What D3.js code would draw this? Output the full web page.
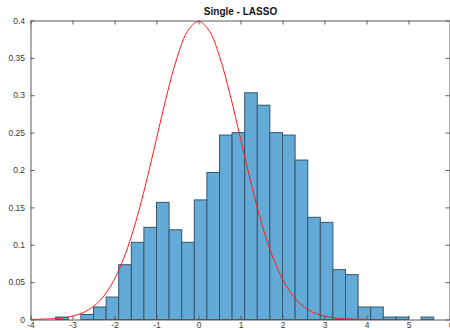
<!DOCTYPE html>
<html lang="en">
  <head>
    <meta charset="UTF-8" />
    <title>Single - LASSO</title>
    <style>
      body {
        margin: 0;
        background: #fff;
        overflow: hidden;
      }
      svg {
        display: block;
        font-family: "Liberation Sans", Arial, Helvetica, sans-serif;
      }
      .tick-label {
        font-size: 8.5px;
        fill: #3a3a3a;
      }
      .title {
        font-size: 10px;
        font-weight: bold;
        fill: #111;
      }
      .bar {
        fill: #64aad7;
        stroke: #35556d;
        stroke-width: 1px;
      }
      .pdf {
        fill: none;
        stroke: #ff1a1a;
        stroke-width: 1px;
      }
    </style>
  </head>
  <body>
    <svg width="450" height="330"></svg>

    <script src="https://d3js.org/d3.v7.min.js"></script>
    <script>
      // histogram (normalized to pdf), bins of width 0.3 starting at -3.4
      const binStart = -3.4;
      const binWidth = 0.3;
      const density = [
        0.0033, 0, 0.0067, 0.0167, 0.03, 0.0733, 0.1033, 0.1233, 0.1567, 0.12,
        0.1033, 0.16, 0.1967, 0.2467, 0.25, 0.3033, 0.2867, 0.25, 0.2467, 0.2133,
        0.1367, 0.13, 0.0667, 0.06, 0.0167, 0.0167, 0.0033, 0.0033, 0, 0.0033,
      ];

      // red reference curve, read at steps of 0.25 from -4 to 4
      const curveX = [
        -4, -3.75, -3.5, -3.25, -3, -2.75, -2.5, -2.25, -2, -1.75, -1.5, -1.25,
        -1, -0.75, -0.5, -0.25, 0, 0.25, 0.5, 0.75, 1, 1.25, 1.5, 1.75, 2, 2.25,
        2.5, 2.75, 3, 3.25, 3.5, 3.75, 4,
      ];
      const curveY = [
        0.0001, 0.0004, 0.0009, 0.002, 0.0044, 0.0091, 0.0175, 0.0317, 0.054,
        0.0863, 0.1295, 0.1826, 0.242, 0.3011, 0.3521, 0.3867, 0.3989, 0.3867,
        0.3521, 0.3011, 0.242, 0.1826, 0.1295, 0.0863, 0.054, 0.0317, 0.0175,
        0.0091, 0.0044, 0.002, 0.0009, 0.0004, 0.0001,
      ];

      const xTicks = [-4, -3, -2, -1, 0, 1, 2, 3, 4, 5, 6];
      const yTicks = [0, 0.05, 0.1, 0.15, 0.2, 0.25, 0.3, 0.35, 0.4];

      const svg = d3.select("svg");
      const mLeft = 30.5,
        mRight = 450.5,
        mTop = 20.5,
        mBottom = 319.5;

      const x = d3.scaleLinear().domain([-4, 6]).range([mLeft, mRight]);
      const y = d3.scaleLinear().domain([0, 0.4]).range([mBottom, mTop]);

      // bars
      const bins = density.map((v, i) => ({
        x0: binStart + i * binWidth,
        x1: binStart + (i + 1) * binWidth,
        v: v,
      }));

      svg
        .append("g")
        .selectAll("rect")
        .data(bins)
        .join("rect")
        .attr("class", "bar")
        .attr("x", (d) => x(d.x0))
        .attr("y", (d) => y(d.v))
        .attr("width", (d) => x(d.x1) - x(d.x0))
        .attr("height", (d) => y(0) - y(d.v));

      // curve
      const line = d3
        .line()
        .x((d, i) => x(curveX[i]))
        .y((d) => y(d))
        .curve(d3.curveCatmullRom);

      svg.append("path").attr("class", "pdf").attr("d", line(curveY));

      // axes, matlab style: box with inward ticks
      const axisColor = "#5a5a5a";
      const tickLen = 4;

      const bottomAxis = d3
        .axisBottom(x)
        .tickValues(xTicks)
        .tickSizeInner(-tickLen)
        .tickSizeOuter(0)
        .tickPadding(2.5)
        .tickFormat((d) => String(d));
      const leftAxis = d3
        .axisLeft(y)
        .tickValues(yTicks)
        .tickSizeInner(-tickLen)
        .tickSizeOuter(0)
        .tickPadding(5.5)
        .tickFormat((d) => (d === 0 ? "0" : String(+d.toFixed(2))));

      const gx = svg
        .append("g")
        .attr("transform", `translate(0,${mBottom})`)
        .call(bottomAxis);
      const gy = svg
        .append("g")
        .attr("transform", `translate(${mLeft},0)`)
        .call(leftAxis);

      const gxTop = svg
        .append("g")
        .attr("transform", `translate(0,${mTop})`)
        .call(d3.axisTop(x).tickValues(xTicks).tickSizeInner(-tickLen).tickSizeOuter(0).tickFormat(""));
      const gyRight = svg
        .append("g")
        .attr("transform", `translate(${mRight - 1},0)`)
        .call(d3.axisRight(y).tickValues(yTicks).tickSizeInner(-tickLen).tickSizeOuter(0).tickFormat(""));

      [gx, gy, gxTop, gyRight].forEach((g) => {
        g.attr("font-family", null).attr("font-size", null);
        g.select(".domain").attr("stroke", axisColor);
        g.selectAll(".tick line").attr("stroke", axisColor);
        g.selectAll(".tick text")
          .attr("class", "tick-label")
          .attr("fill", null);
      });

      // title
      svg
        .append("text")
        .attr("class", "title")
        .attr("x", (mLeft + mRight) / 2)
        .attr("y", 14.5)
        .attr("text-anchor", "middle")
        .text("Single - LASSO");
    </script>
  </body>
</html>
